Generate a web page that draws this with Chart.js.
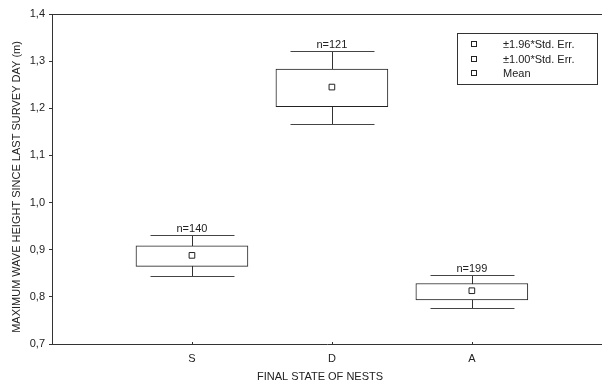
<!DOCTYPE html>
<html>
<head>
<meta charset="utf-8">
<script src="https://cdn.jsdelivr.net/npm/chart.js@4/dist/chart.umd.min.js"></script>
<style>
  html, body { margin: 0; padding: 0; background: #fff; overflow: hidden; width: 602px; height: 386px; }
  canvas { display: block; }
</style>
</head>
<body>
<canvas id="c" width="607" height="386"></canvas>
<script>
// ---- data ----
const categories = ['S', 'D', 'A'];
const counts = [140, 121, 199];
const means = [0.888, 1.245, 0.813];
const se1Low = [0.8645, 1.2036, 0.7936];
const se1High = [0.9085, 1.283, 0.8283];
const se196Low = [0.8432, 1.1674, 0.7772];
const se196High = [0.9304, 1.3206, 0.8468];
const yTickValues = [0.7, 0.8, 0.9, 1.0, 1.1, 1.2, 1.3, 1.4];
const legendLabels = ['\u00B11.96*Std. Err.', '\u00B11.00*Std. Err.', 'Mean'];
const xTitle = 'FINAL STATE OF NESTS';
const yTitle = 'MAXIMUM WAVE HEIGHT SINCE LAST SURVEY DAY (m)';

const FONT = 'Liberation Sans, Arial, sans-serif';
const INK = '#222';

const boxData = categories.map((c, i) => ({ x: i + 1, y: [se1Low[i], se1High[i]] }));
const meanData = categories.map((c, i) => ({ x: i + 1, y: means[i] }));

const whiskerPlugin = {
  id: 'whiskers',
  beforeDatasetsDraw(chart) {
    const { ctx, scales: { x, y }, chartArea } = chart;
    ctx.save();
    // top frame line
    ctx.strokeStyle = '#333';
    ctx.lineWidth = 1;
    ctx.beginPath();
    ctx.moveTo(chartArea.left, Math.round(chartArea.top) + 0.5);
    ctx.lineTo(chartArea.right, Math.round(chartArea.top) + 0.5);
    ctx.stroke();
    // x tick marks (small inward)
    categories.forEach((c, i) => {
      const px = Math.round(x.getPixelForValue(i + 1)) + 0.5;
      ctx.beginPath();
      ctx.moveTo(px, chartArea.bottom);
      ctx.lineTo(px, chartArea.bottom - 2);
      ctx.stroke();
    });
    // whiskers
    const capHalf = (x.getPixelForValue(1.3) - x.getPixelForValue(1));
    categories.forEach((c, i) => {
      const px = Math.round(x.getPixelForValue(i + 1)) + 0.5;
      const yt = Math.round(y.getPixelForValue(se196High[i])) + 0.5;
      const yb = Math.round(y.getPixelForValue(se196Low[i])) + 0.5;
      ctx.strokeStyle = '#333';
      ctx.lineWidth = 1;
      ctx.beginPath();
      ctx.moveTo(px, yt); ctx.lineTo(px, yb);
      ctx.stroke();
      ctx.strokeStyle = '#444';
      ctx.beginPath();
      ctx.moveTo(px - capHalf, yt); ctx.lineTo(px + capHalf, yt);
      ctx.moveTo(px - capHalf, yb); ctx.lineTo(px + capHalf, yb);
      ctx.stroke();
    });
    ctx.restore();
  },
  afterDatasetsDraw(chart) {
    const { ctx, scales: { x, y }, chartArea } = chart;
    ctx.save();
    // n labels
    ctx.font = '11px ' + FONT;
    ctx.fillStyle = INK;
    ctx.textAlign = 'center';
    ctx.textBaseline = 'alphabetic';
    categories.forEach((c, i) => {
      const px = x.getPixelForValue(i + 1);
      const yt = y.getPixelForValue(se196High[i]);
      ctx.fillText('n=' + counts[i], px, yt - 3);
    });
    // legend box
    const lx = chartArea.right - 145, ly = chartArea.top + 19, lw = 140, lh = 51;
    ctx.strokeStyle = '#333';
    ctx.lineWidth = 1;
    ctx.strokeRect(Math.round(lx) + 0.5, Math.round(ly) + 0.5, lw, lh);
    ctx.textAlign = 'left';
    ctx.textBaseline = 'middle';
    legendLabels.forEach((t, k) => {
      const ry = Math.round(ly + 11 + k * 14.5);
      ctx.fillStyle = '#fff';
      ctx.strokeStyle = INK;
      ctx.fillRect(lx + 14, ry - 2, 5, 5);
      ctx.strokeRect(Math.round(lx) + 14.5, ry - 2.5, 5, 5);
      ctx.fillStyle = INK;
      ctx.fillText(t, lx + 46, ry + 0.5);
    });
    // y axis title
    ctx.save();
    ctx.translate(17, (chartArea.top + chartArea.bottom) / 2 + 8);
    ctx.rotate(-Math.PI / 2);
    ctx.textAlign = 'center';
    ctx.textBaseline = 'middle';
    ctx.fillStyle = INK;
    ctx.font = '11px ' + FONT;
    ctx.fillText(yTitle, 0, 0);
    ctx.restore();
    // x axis title
    ctx.textAlign = 'center';
    ctx.textBaseline = 'middle';
    ctx.fillText(xTitle, (chartArea.left + chartArea.right) / 2 - 7, chartArea.bottom + 33);
    ctx.restore();
  }
};

new Chart(document.getElementById('c'), {
  type: 'bar',
  data: {
    datasets: [
      {
        type: 'scatter',
        data: meanData,
        pointStyle: 'rect',
        pointRadius: 4,
        pointBackgroundColor: '#fff',
        pointBorderColor: INK,
        pointBorderWidth: 1,
        order: 0
      },
      {
        type: 'bar',
        data: boxData,
        backgroundColor: '#fff',
        borderColor: INK,
        borderWidth: 1,
        borderSkipped: false,
        barThickness: 112,
        order: 1
      }
    ]
  },
  options: {
    responsive: false,
    animation: false,
    devicePixelRatio: 1,
    layout: { padding: { top: 14, right: 0, left: 0, bottom: 0 } },
    plugins: { legend: { display: false }, tooltip: { enabled: false } },
    scales: {
      x: {
        type: 'linear',
        offset: false,
        min: 0,
        max: 3.93,
        afterBuildTicks: (s) => { s.ticks = categories.map((c, i) => ({ value: i + 1 })); },
        afterFit: (s) => { s.height = 42; s.paddingLeft = 0; s.paddingRight = 0; },
        ticks: {
          callback: (v) => categories[Math.round(v) - 1],
          font: { family: FONT, size: 11 },
          color: INK,
          padding: 8,
          maxRotation: 0,
          autoSkip: false
        },
        grid: { display: false, drawTicks: false, offset: false },
        border: { display: true, color: '#333', width: 1 },
        title: { display: false }
      },
      y: {
        type: 'linear',
        min: 0.7,
        max: 1.4,
        afterBuildTicks: (s) => { s.ticks = yTickValues.map(v => ({ value: v })); },
        afterFit: (s) => { s.width = 52; s.paddingTop = 0; s.paddingBottom = 0; },
        ticks: {
          callback: (v) => v.toFixed(1).replace('.', ','),
          font: { family: FONT, size: 11 },
          color: INK,
          padding: 4
        },
        grid: { drawOnChartArea: false, drawTicks: true, tickLength: 3, color: '#333' },
        border: { display: true, color: '#333', width: 1 },
        title: { display: false }
      }
    }
  },
  plugins: [whiskerPlugin]
});
</script>
</body>
</html>
